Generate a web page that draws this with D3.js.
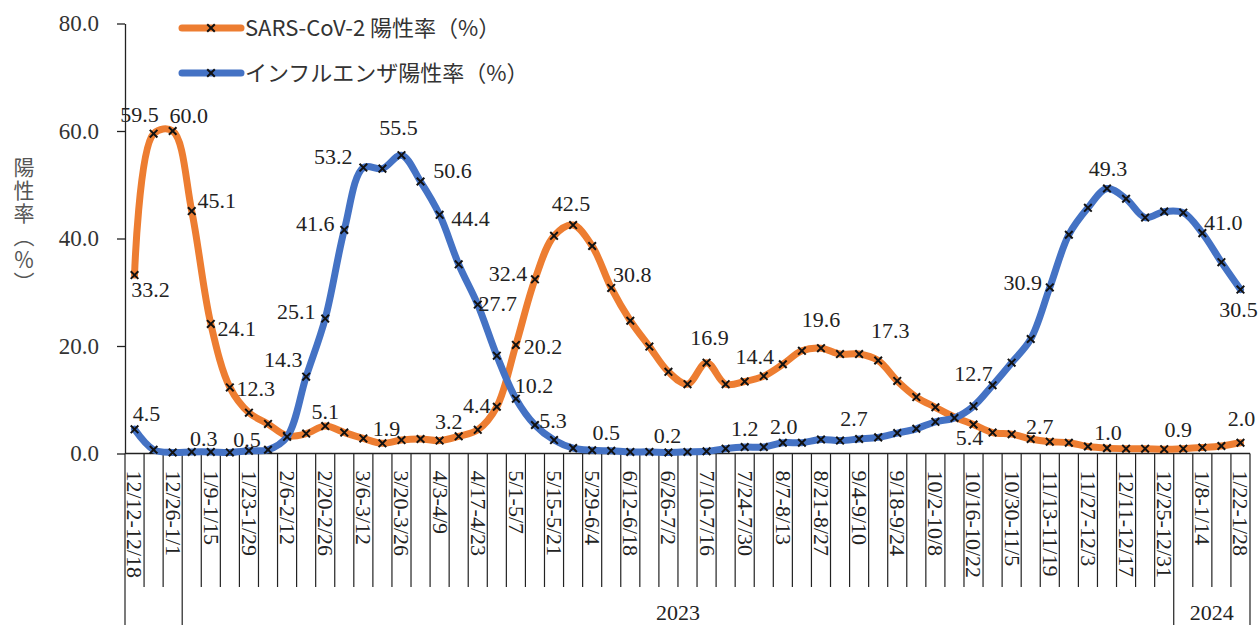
<!DOCTYPE html>
<html><head><meta charset="utf-8">
<script src="https://cdn.jsdelivr.net/npm/d3@7"></script>
</head>
<body style="margin:0;padding:0;background:#fff">
<svg id="chart" width="1259" height="625" style="display:block"></svg>
<script>
// ---------- data ----------
const weeks = ["12/12-12/18","12/19-12/25","12/26-1/1","1/2-1/8","1/9-1/15","1/16-1/22","1/23-1/29","1/30-2/5",
"2/6-2/12","2/13-2/19","2/20-2/26","2/27-3/5","3/6-3/12","3/13-3/19","3/20-3/26","3/27-4/2","4/3-4/9","4/10-4/16",
"4/17-4/23","4/24-4/30","5/1-5/7","5/8-5/14","5/15-5/21","5/22-5/28","5/29-6/4","6/5-6/11","6/12-6/18","6/19-6/25",
"6/26-7/2","7/3-7/9","7/10-7/16","7/17-7/23","7/24-7/30","7/31-8/6","8/7-8/13","8/14-8/20","8/21-8/27","8/28-9/3",
"9/4-9/10","9/11-9/17","9/18-9/24","9/25-10/1","10/2-10/8","10/9-10/15","10/16-10/22","10/23-10/29","10/30-11/5",
"11/6-11/12","11/13-11/19","11/20-11/26","11/27-12/3","12/4-12/10","12/11-12/17","12/18-12/24","12/25-12/31",
"1/1-1/7","1/8-1/14","1/15-1/21","1/22-1/28"];

const covid = [33.2,59.5,60.0,45.1,24.1,12.3,7.6,5.5,3.3,3.7,5.1,3.9,2.8,1.9,2.5,2.7,2.4,3.2,4.4,8.7,
20.2,32.4,40.5,42.5,38.6,30.8,24.7,19.9,15.2,12.9,16.9,12.9,13.4,14.4,16.6,19.1,19.6,18.5,18.5,17.3,
13.5,10.5,8.6,6.8,5.4,3.9,3.6,2.7,2.2,2.0,1.3,1.0,0.9,0.9,0.8,0.9,1.1,1.4,2.0];

const flu = [4.5,0.7,0.2,0.3,0.3,0.2,0.5,0.7,3.1,14.3,25.1,41.6,53.2,53.0,55.5,50.6,44.4,35.2,27.7,18.2,
10.2,5.3,2.5,1.0,0.6,0.5,0.3,0.3,0.2,0.3,0.4,0.9,1.2,1.2,2.0,2.0,2.6,2.4,2.7,3.0,
3.8,4.6,5.9,6.6,8.8,12.7,16.9,21.3,30.9,40.7,45.7,49.3,47.4,43.9,45.0,44.8,41.0,35.6,30.5];

const yTicks = [0,20,40,60,80];
const seriesNames = ["SARS-CoV-2 陽性率（%）","インフルエンザ陽性率（%）"];
const yearLabels = ["","2023","2024"];
const yearStarts = [0,3,55];
const yAxisTitle = "陽性率（％）";

const covidLabelIdx = [0,1,2,3,4,5,10,13,17,18,20,21,23,25,30,33,36,39,44,47,51,55,58];
const fluLabelIdx = [0,4,6,9,10,11,12,14,15,16,18,20,21,25,28,32,34,38,45,48,51,56,58];

// label placement (offsets in px from the point)
const covidLabelOff = [[16,14],[-14,-19],[16,-16],[25,-11],[26,4],[26,1],[0,-15],[4,-15],[-10,-15],[-1,-25],
[27,1],[-27,-6],[-2,-22],[21,-14],[3,-25],[-9,-20],[0,-29],[12,-30],[-4,13],[9,-13],[1,-16],[-5,-19],[1,-24]];
const fluLabelOff = [[12,-16],[-7,-14],[-2,-12],[-23,-17],[-29,-7],[-29,-7],[-30,-11],[-3,-28],[32,-11],[31,3],
[20,-1],[18,-13],[18,-5],[-5,-19],[-1,-17],[0,-19],[1,-16],[-5,-21],[-19,-12],[-27,-5],[1,-20],[21,-11],[-2,20]];

// ---------- drawing ----------
const svg = d3.select("#chart");
const C_OR = "#ED7D31", C_BL = "#4472C4";
const SERIF = '"Liberation Serif"';
const JP = '"Noto Sans CJK JP"';

const x = d3.scaleBand().domain(weeks).range([125,1250]).padding(0);
const y = d3.scaleLinear().domain([0,80]).range([453.5,23.5]);
const cx = i => x(weeks[i]) + x.bandwidth()/2;

// y axis
const yAxis = d3.axisLeft(y).tickValues(yTicks).tickFormat(d3.format(".1f")).tickSize(8).tickSizeOuter(0).tickPadding(18);
const gy = svg.append("g").attr("transform","translate(125,0)").call(yAxis);
gy.attr("font-family",null).attr("font-size",null);
gy.select(".domain").attr("stroke","#222").attr("stroke-width",1.3);
gy.selectAll(".tick line").attr("stroke","#222").attr("stroke-width",1.3);
gy.selectAll(".tick text").style("font-family",SERIF).attr("font-size",23).attr("fill","#333");

// y axis title (vertical)
svg.append("text").attr("x",24).attr("y",157)
  .style("font-family",JP).style("writing-mode","vertical-rl").attr("font-size",21)
  .attr("letter-spacing",2).attr("fill","#555").text(yAxisTitle);

// x axis
const gx = svg.append("g");
gx.append("line").attr("x1",125).attr("x2",1250).attr("y1",y(0)).attr("y2",y(0)).attr("stroke","#222").attr("stroke-width",1.3);
const bounds = d3.range(weeks.length+1);
const longB = new Set(yearStarts.concat([weeks.length]));
gx.selectAll("line.div").data(bounds).join("line").attr("class","div")
  .attr("x1",k=>125 + k*x.step()).attr("x2",k=>125 + k*x.step())
  .attr("y1",y(0)).attr("y2",k=>longB.has(k)?625:587)
  .attr("stroke","#222").attr("stroke-width",1.2);
gx.selectAll("text.cat").data(weeks.map((w,i)=>({w,i})).filter(d=>d.i%2===0)).join("text").attr("class","cat")
  .style("font-family",SERIF)
  .attr("transform",d=>`translate(${cx(d.i)},${y(0)+17}) rotate(90)`)
  .attr("dy","0.32em").attr("font-size",22).attr("fill","#222").text(d=>d.w);
yearLabels.forEach((lab,j)=>{
  if(!lab) return;
  const s = yearStarts[j], e = j+1<yearStarts.length ? yearStarts[j+1] : weeks.length;
  svg.append("text").style("font-family",SERIF).attr("x",125 + (s+e)/2*x.step()).attr("y",612).attr("dy","0.35em")
    .attr("text-anchor","middle").attr("font-size",22).attr("fill","#222").text(lab);
});

// lines
const line = d3.line().x((d,i)=>cx(i)).y(d=>y(d)).curve(d3.curveCatmullRom.alpha(0.5));
function drawSeries(vals,color){
  svg.append("path").datum(vals).attr("d",line).attr("fill","none").attr("stroke",color)
    .attr("stroke-width",7).attr("stroke-linejoin","round").attr("stroke-linecap","round");
  const m = svg.append("g");
  vals.forEach((v,i)=>{
    const px = cx(i), py = y(v), s = 3.8;
    m.append("path").attr("d",`M${px-s},${py-s}L${px+s},${py+s}M${px-s},${py+s}L${px+s},${py-s}`)
      .attr("stroke","#111").attr("stroke-width",2).attr("fill","none");
  });
}
drawSeries(covid,C_OR);
drawSeries(flu,C_BL);

// value labels
function drawLabels(vals,idx,off){
  svg.append("g").selectAll("text").data(idx).join("text").style("font-family",SERIF)
    .attr("x",(d,k)=>cx(d)+off[k][0]).attr("y",(d,k)=>y(vals[d])+off[k][1])
    .attr("text-anchor","middle").attr("dy","0.35em")
    .attr("font-size",22).attr("fill","#222")
    .text(d=>vals[d].toFixed(1));
}
drawLabels(covid,covidLabelIdx,covidLabelOff);
drawLabels(flu,fluLabelIdx,fluLabelOff);

// legend
const lg = svg.append("g");
[[C_OR,28],[C_BL,73]].forEach(([c,ly],k)=>{
  lg.append("line").attr("x1",182).attr("x2",241).attr("y1",ly).attr("y2",ly).attr("stroke",c)
    .attr("stroke-width",7).attr("stroke-linecap","round");
  const s=3.8, px=211;
  lg.append("path").attr("d",`M${px-s},${ly-s}L${px+s},${ly+s}M${px-s},${ly+s}L${px+s},${ly-s}`)
    .attr("stroke","#111").attr("stroke-width",2);
  lg.append("text").style("font-family",JP).attr("x",245).attr("y",ly).attr("dy","0.35em")
    .attr("font-size",22).attr("fill","#333").text(seriesNames[k]);
});
</script>
</body></html>
